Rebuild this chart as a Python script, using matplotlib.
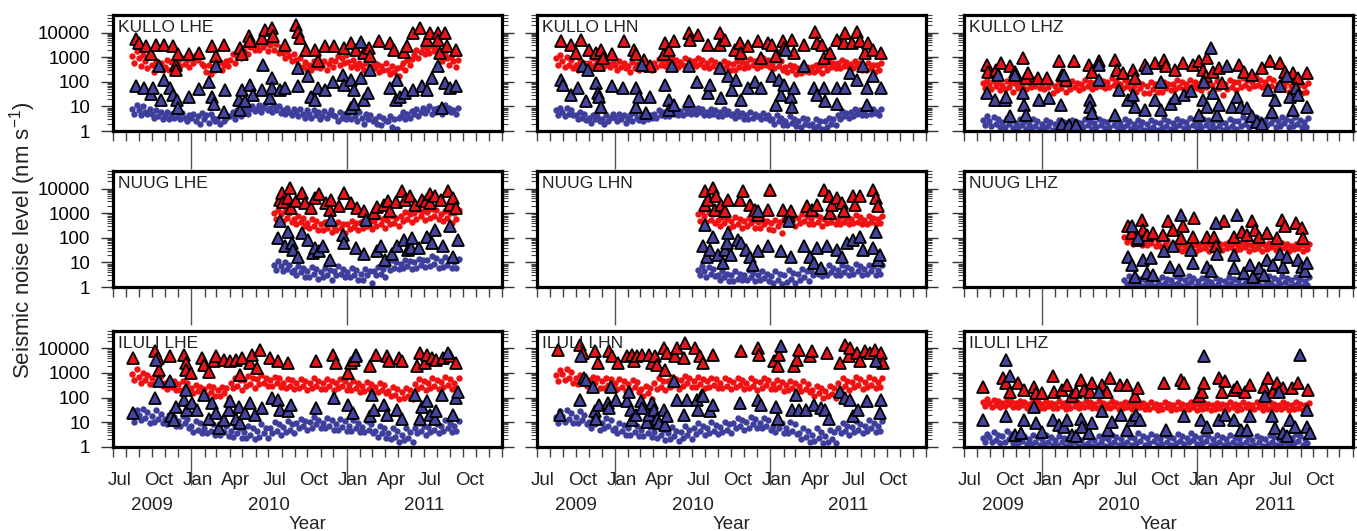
import datetime as dt
import numpy as np
import matplotlib
matplotlib.use("Agg")
import matplotlib.pyplot as plt
import matplotlib.dates as mdates
import matplotlib.transforms as mtrans
from matplotlib.ticker import FixedLocator, LogLocator, NullFormatter, FixedFormatter

plt.rcParams['font.family'] = ['Liberation Sans', 'DejaVu Sans']
plt.rcParams['mathtext.fontset'] = 'custom'
plt.rcParams['mathtext.rm'] = 'Liberation Sans'
plt.rcParams['mathtext.it'] = 'Liberation Sans:italic'

# ---------------- data (days since 2009-07-01, noise level nm/s) ----------------
panel_names = ['KULLO LHE', 'KULLO LHN', 'KULLO LHZ',
               'NUUG LHE', 'NUUG LHN', 'NUUG LHZ',
               'ILULI LHE', 'ILULI LHN', 'ILULI LHZ']

kullo_dot_span = (45, 810)
nuug_dot_span = (378, 812)
iluli_dot_span = (45, 812)

# daily-level dots (about every 5 days), month by month
kullo_lhe_red_dots = [1100, 600, 1800,
    900, 450, 1200, 700, 350, 1000,  500, 250, 700, 350, 600, 300,
    400, 800, 300, 650, 500, 900,  700, 450, 950, 550, 800, 400,
    900, 600, 1200, 750, 1000, 550,  450, 250, 500, 200, 350, 300,
    400, 650, 300, 500, 700, 450,  800, 1300, 600, 1000, 1500, 900,
    1800, 3000, 1400, 2500, 3500, 2000,  3000, 2000, 4000, 2500, 3500, 1800,
    3000, 4500, 2000, 3500, 1500, 2500,  1500, 900, 1800, 1100, 700, 1300,
    800, 500, 900, 400, 650, 300,  500, 300, 700, 400, 850, 350,
    450, 700, 300, 550, 800, 400,  700, 1100, 500, 900, 600, 1200,
    650, 400, 800, 500, 350, 600,  450, 300, 600, 250, 400, 500,
    350, 550, 250, 450, 300, 600,  300, 200, 450, 250, 350, 180,
    400, 600, 300, 750, 500, 850,  1200, 2000, 900, 1600, 2500, 1400,
    2200, 1500, 2800, 1800, 2500, 1300,  1200, 700, 1400, 900, 500, 1000,
    700, 400, 800]
kullo_lhe_blue_dots = [8, 5, 11,
    7, 4.5, 10, 6, 5, 8,  5, 3.5, 7, 4, 6, 3,  4, 6, 3, 5, 3.5, 6.5,
    4, 3, 5.5, 3.5, 2.5, 4.5,  3.5, 5, 2.5, 4, 2, 5.5,  3, 4.5, 2.2, 5, 3.5, 2.5,
    3, 2, 4.5, 2.5, 3.5, 4,  4, 6, 3, 7, 5, 4,  6, 9, 5, 8, 10, 6.5,
    8, 11, 6, 9, 12, 7,  9, 6, 11, 7, 10, 5.5,  7, 5, 9, 6, 4.5, 8,
    6, 4, 8, 5, 3.5, 7,  5, 3.5, 7, 4.5, 6, 3,  4, 6.5, 3.5, 5, 7, 4.5,
    4, 2.5, 6, 3.5, 5, 3,  5, 3, 7, 4, 2.5, 6,  3.5, 2, 5, 3, 4.5, 2.5,
    3, 2, 4, 1.8, 3.5, 2.5,  2.5, 4, 1.5, 3, 1.2, 3.5,  4, 6, 3, 5, 3.5, 6.5,
    5, 7.5, 4, 6, 8.5, 5.5,  7, 10, 5, 8, 6, 9,  8, 5, 11, 7, 9, 6,
    7, 5, 9]
kullo_lhn_red_dots = [900, 500, 1200,
    700, 400, 1000, 500, 800, 350,  500, 300, 700, 400, 600, 250,
    600, 400, 900, 500, 750, 350,  700, 450, 850, 550, 400, 650,
    500, 300, 700, 400, 600, 350,  450, 250, 650, 350, 550, 300,
    500, 350, 700, 400, 600, 300,  600, 400, 850, 500, 750, 450,
    700, 450, 900, 550, 800, 400,  650, 500, 900, 400, 750, 550,
    700, 450, 950, 550, 800, 400,  600, 350, 750, 450, 650, 300,
    500, 350, 700, 400, 600, 300,  550, 300, 700, 400, 650, 350,
    600, 400, 850, 500, 700, 350,  650, 450, 900, 500, 750, 400,
    600, 350, 800, 450, 700, 300,  400, 250, 500, 300, 450, 200,
    350, 220, 480, 280, 400, 250,  400, 250, 500, 300, 450, 220,
    500, 300, 700, 400, 600, 350,  600, 350, 750, 450, 650, 400,
    550, 350, 700, 450, 600, 300,  450, 300, 600, 350, 500, 250,
    500, 300, 600]
kullo_lhn_blue_dots = [7, 4.5, 9,
    6, 4, 9, 5, 7, 4.5,  4.5, 3, 6, 3.5, 5, 2.8,  3.5, 2.2, 4.5, 3, 4, 2.5,
    3, 2, 4.5, 2.5, 3.5, 5,  3.5, 2.5, 5, 3, 4.5, 2.2,  3, 4.5, 2.5, 5.5, 3.5, 2.8,
    4, 2.5, 5, 3, 4.5, 3.5,  5, 3.5, 7, 4.5, 6, 4,  6, 4, 8, 5, 7, 4.5,
    6.5, 4.5, 9, 5.5, 7, 5,  7, 5, 9, 6, 8, 4.5,  6, 4.5, 8, 5, 7, 4,
    6, 4, 7.5, 5, 6.5, 4.5,  5, 3.5, 6.5, 4, 5.5, 3,  4.5, 3, 6, 3.5, 5, 4,
    4, 3, 5.5, 3.5, 4.5, 2.8,  3, 2, 4.5, 2.5, 3.5, 1.8,  2.5, 1.8, 4, 2.2, 3, 1.6,
    2.5, 1.5, 3.5, 2, 3, 1.8,  2, 1.3, 3, 1.6, 2.5, 1.2,  2.5, 1.5, 3.5, 2, 3, 1.8,
    4.5, 3, 6.5, 4, 5.5, 3.5,  6, 4, 8, 5, 7, 4.5,  6.5, 4.5, 9, 5, 7.5, 5.5,
    6, 4.5, 8]
kullo_lhz_red_dots = [90, 55, 120,
    80, 50, 110, 65, 95, 45,  75, 50, 110, 60, 90, 40,  85, 55, 120, 65, 100, 50,
    90, 60, 130, 70, 100, 55,  80, 50, 110, 60, 90, 35,  70, 45, 100, 55, 85, 40,
    75, 50, 105, 60, 90, 45,  85, 55, 120, 65, 100, 50,  90, 60, 130, 70, 110, 55,
    95, 60, 140, 75, 110, 55,  85, 55, 120, 65, 100, 50,  70, 40, 100, 55, 85, 35,
    65, 35, 95, 50, 80, 40,  70, 40, 100, 55, 85, 45,  80, 50, 115, 60, 95, 50,
    85, 55, 120, 65, 100, 55,  80, 45, 110, 60, 95, 35,  75, 45, 105, 55, 90, 30,
    80, 50, 115, 60, 95, 45,  95, 60, 140, 75, 115, 55,  100, 65, 150, 75, 120, 60,
    95, 60, 140, 70, 115, 55,  80, 50, 110, 60, 95, 40,  70, 40, 100, 55, 85, 35,
    65, 40, 90]
kullo_lhz_blue_dots = [2.8, 1.8, 4,
    2.5, 1.6, 3.8, 2, 3, 1.4,  2.4, 1.5, 3.5, 2, 2.8, 1.3,  2.2, 1.4, 3.2, 1.8, 2.6, 1.2,
    2, 1.3, 3, 1.6, 2.5, 1.2,  2, 1.3, 2.8, 1.6, 2.4, 1.1,  1.9, 1.2, 2.7, 1.5, 2.3, 1.1,
    2, 1.3, 2.8, 1.6, 2.4, 1.2,  2.1, 1.4, 3, 1.7, 2.5, 1.2,  2.2, 1.4, 3.1, 1.8, 2.6, 1.3,
    2.3, 1.5, 3.2, 1.8, 2.7, 1.3,  2.2, 1.4, 3, 1.7, 2.6, 1.2,  2, 1.3, 2.9, 1.6, 2.4, 1.1,
    2, 1.2, 2.8, 1.5, 2.3, 1.1,  2.1, 1.3, 3, 1.6, 2.5, 1.2,  2.2, 1.4, 3.2, 1.7, 2.6, 1.3,
    2.3, 1.5, 3.5, 1.8, 2.8, 1.3,  2.2, 1.4, 3.2, 1.7, 2.7, 1.2,  2, 1.3, 2.9, 1.6, 2.4, 1.1,
    2.1, 1.3, 3, 1.6, 2.5, 1.2,  2.5, 1.6, 3.6, 2, 3, 1.4,  2.6, 1.7, 3.8, 2.1, 3.1, 1.5,
    2.7, 1.7, 4, 2.2, 3.2, 1.5,  2.6, 1.6, 3.8, 2.1, 3, 1.4,  2.5, 1.6, 3.6, 2, 2.9, 1.4,
    2.4, 1.5, 3.4]

nuug_lhe_red_dots = [1000, 600, 1300,
    900, 500, 1200, 650, 1000, 450,  600, 350, 750, 450, 650, 300,
    400, 250, 600, 300, 500, 200,  350, 200, 450, 250, 400, 180,
    300, 200, 450, 250, 380, 160,  350, 220, 470, 280, 400, 200,
    450, 250, 600, 300, 500, 220,  500, 300, 700, 350, 600, 250,
    550, 350, 750, 400, 650, 300,  800, 500, 1100, 600, 900, 450,
    1000, 600, 1400, 750, 1200, 550,  1100, 650, 1500, 800, 1300, 600,
    900, 500, 1200, 650, 1000, 400,  1000, 600, 1300]
nuug_lhe_blue_dots = [8, 5, 11,
    7, 4.5, 10, 5.5, 8, 4,  5, 3, 7, 4, 6, 2.5,  4.5, 2.5, 6.5, 3.5, 5.5, 2.2,
    4, 2.5, 6, 3, 5, 2,  4.5, 3, 7, 3.5, 5.5, 2.5,  4, 2.5, 6, 3, 5, 2,
    3.5, 2, 5.5, 3, 4.5, 1.5,  4.5, 3, 6.5, 3.5, 5.5, 2.5,  8, 5, 12, 6, 10, 5.5,
    9, 6, 13, 7, 11, 5.5,  10, 6, 14, 8, 12, 6.5,  12, 7, 18, 9, 15, 6,
    11, 6.5, 17, 8, 14, 6,  10, 6, 14]
nuug_lhn_red_dots = [900, 500, 1200,
    800, 450, 1100, 550, 900, 400,  550, 300, 700, 400, 600, 250,
    500, 300, 700, 350, 600, 250,  500, 300, 650, 400, 550, 250,
    450, 250, 600, 350, 500, 220,  400, 200, 550, 300, 450, 150,
    600, 350, 850, 450, 700, 300,  650, 400, 900, 500, 750, 350,
    600, 350, 850, 450, 700, 300,  600, 400, 800, 450, 700, 350,
    550, 350, 800, 450, 650, 380,  600, 400, 850, 450, 700, 350,
    550, 350, 800, 450, 650, 380,  600, 400, 750]
nuug_lhn_blue_dots = [5, 3, 7,
    4.5, 2.5, 6.5, 3.5, 5.5, 2.8,  3, 2, 4.5, 2.5, 3.5, 1.8,  3, 1.8, 4.5, 2.2, 3.5, 2,
    3.2, 2, 4.8, 2.5, 3.8, 1.8,  3, 1.9, 4.5, 2.3, 3.5, 1.7,  2.8, 1.5, 4.5, 2, 3.5, 1.3,
    3, 1.6, 5, 2.2, 3.8, 1.4,  3.5, 2, 5.5, 2.5, 4.5, 1.8,  4.5, 3, 7, 3.5, 6, 2.8,
    5, 3, 7.5, 4, 6, 3,  5, 3.2, 8, 4, 6.5, 3,  5.5, 3.5, 8.5, 4.5, 7, 3.2,
    5.5, 3.5, 8, 4.5, 7, 3,  5, 3.5, 7.5]
nuug_lhz_red_dots = [110, 70, 130,
    90, 55, 120, 65, 100, 50,  80, 50, 110, 60, 95, 45,  75, 45, 100, 55, 85, 40,
    50, 35, 60, 40, 55, 30,  48, 33, 60, 38, 52, 30,  50, 35, 62, 40, 55, 30,
    52, 36, 65, 42, 58, 32,  55, 38, 65, 44, 60, 33,  52, 36, 62, 42, 58, 30,
    50, 34, 60, 40, 55, 30,  52, 36, 62, 42, 58, 32,  50, 35, 60, 40, 55, 30,
    48, 34, 58, 40, 53, 30,  50, 35, 58]
nuug_lhz_blue_dots = [2, 1.3, 2.8,
    1.8, 1.2, 2.6, 1.4, 2.2, 1.1,  1.9, 1.2, 2.7, 1.5, 2.3, 1.1,  1.8, 1.2, 2.5, 1.4, 2.1, 1.05,
    1.9, 1.3, 2.8, 1.5, 2.3, 1.1,  2, 1.3, 2.9, 1.6, 2.4, 1.1,  1.7, 1.1, 2.4, 1.3, 2, 1.02,
    1.6, 1.1, 2.3, 1.3, 1.9, 1.02,  1.8, 1.2, 2.5, 1.4, 2.1, 1.05,  1.9, 1.2, 2.6, 1.5, 2.2, 1.1,
    1.8, 1.2, 2.5, 1.4, 2.1, 1.05,  1.9, 1.3, 2.7, 1.5, 2.3, 1.1,  2, 1.3, 2.8, 1.6, 2.4, 1.1,
    1.9, 1.2, 2.6, 1.5, 2.2, 1.1,  1.8, 1.2, 2.5]

iluli_lhe_red_dots = [900, 500, 1500,
    700, 400, 1000, 500, 800, 350,  650, 350, 900, 450, 750, 300,
    400, 220, 500, 280, 450, 200,  350, 200, 480, 250, 400, 180,
    250, 150, 320, 180, 280, 120,  220, 130, 300, 160, 260, 110,
    200, 120, 280, 150, 240, 100,  400, 250, 600, 300, 500, 200,
    500, 300, 750, 350, 600, 250,  550, 350, 800, 400, 650, 300,
    500, 300, 700, 380, 600, 280,  400, 250, 580, 300, 500, 220,
    380, 240, 550, 300, 450, 200,  400, 250, 600, 300, 480, 220,
    380, 230, 560, 290, 460, 200,  400, 250, 580, 300, 480, 210,
    320, 200, 450, 250, 380, 160,  300, 180, 420, 230, 350, 150,
    280, 170, 400, 210, 330, 150,  180, 110, 260, 130, 220, 90,
    170, 100, 250, 120, 200, 85,  350, 220, 550, 280, 450, 200,
    400, 250, 650, 300, 500, 220,  420, 260, 700, 320, 550, 230,
    400, 250, 600]
iluli_lhe_blue_dots = [18, 10, 30,
    20, 12, 35, 15, 25, 9,  18, 10, 30, 13, 22, 9,  13, 8, 20, 10, 16, 7,
    11, 7, 18, 9, 14, 6,  7, 4, 11, 5, 9, 3.5,  6, 3.5, 10, 4.5, 8, 3,
    5.5, 3, 9, 4, 7, 2.8,  4.5, 2.5, 7, 3.5, 6, 2.2,  4, 2.2, 7, 3, 5.5, 2,
    4.5, 2.5, 8, 3.5, 6, 2.3,  6, 3.5, 10, 4.5, 8, 3,  6.5, 4, 11, 5, 8.5, 3.5,
    9, 5.5, 14, 7, 11, 5,  10, 6, 16, 8, 12, 5.5,  9, 5.5, 15, 7, 12, 5,
    8, 5, 14, 6.5, 11, 4.5,  7, 4.5, 12, 5.5, 9, 4,  6.5, 4, 11, 5, 8.5, 3.5,
    4.5, 2.5, 7, 3.5, 5.5, 2.2,  3.5, 2, 6, 2.5, 4.5, 1.6,  3, 1.8, 5.5, 2.3, 4, 1.5,
    5.5, 3.5, 9, 4.5, 7, 3,  6.5, 4, 11, 5, 8, 3.5,  7, 4.5, 12, 5.5, 9, 4,
    7, 4.5, 11]
iluli_lhn_red_dots = [800, 450, 1300,
    900, 500, 1400, 650, 1100, 400,  600, 350, 800, 450, 700, 300,
    500, 280, 700, 380, 600, 250,  450, 250, 650, 330, 550, 220,
    400, 220, 550, 280, 480, 180,  350, 200, 500, 260, 420, 160,
    220, 120, 300, 150, 250, 90,  380, 220, 600, 280, 480, 200,
    450, 260, 700, 330, 550, 230,  500, 300, 750, 380, 600, 260,
    480, 280, 700, 350, 580, 250,  450, 270, 650, 330, 550, 240,
    400, 250, 600, 300, 500, 220,  420, 260, 620, 310, 520, 230,
    400, 240, 600, 300, 480, 210,  420, 250, 630, 320, 500, 220,
    350, 220, 500, 270, 420, 190,  330, 200, 480, 250, 400, 170,
    300, 180, 450, 230, 370, 160,  200, 120, 300, 150, 250, 100,
    190, 110, 290, 140, 240, 100,  380, 230, 600, 290, 480, 210,
    420, 260, 680, 320, 540, 230,  430, 270, 700, 330, 550, 240,
    420, 260, 650]
iluli_lhn_blue_dots = [16, 9, 28,
    18, 10, 32, 13, 24, 9,  16, 9, 28, 12, 20, 8,  10, 6, 16, 8, 13, 5,
    9, 5.5, 15, 7, 12, 5,  6, 3.5, 9, 4.5, 7.5, 3,  5.5, 3, 9, 4, 7, 2.8,
    5, 2.8, 8, 3.5, 6.5, 2.5,  4, 2.2, 7, 3, 5, 1.8,  3.5, 2, 6.5, 2.7, 4.5, 1.7,
    4, 2.2, 7, 3, 5, 2,  5.5, 3.2, 9, 4.2, 7, 3,  6, 3.5, 10, 4.5, 7.5, 3.2,
    6.5, 4, 10, 5, 8, 3.5,  9, 5.5, 15, 7, 12, 5,  10, 6, 16, 8, 13, 5.5,
    9, 5.5, 15, 7, 12, 5,  7, 4, 11, 5.5, 9, 3.5,  6, 3.5, 10, 4.5, 8, 3.2,
    3.5, 2, 6, 2.5, 4.5, 1.6,  3, 1.7, 5.5, 2.2, 4, 1.4,  2.8, 1.6, 5, 2, 3.8, 1.4,
    5.5, 3.5, 9, 4.5, 7, 3,  6.5, 4, 11, 5, 8.5, 3.5,  7, 4.5, 12, 5.5, 9, 4,
    7, 4.5, 11]
iluli_lhz_red_dots = [65, 45, 85,
    60, 42, 80, 50, 70, 40,  62, 44, 82, 52, 72, 42,  58, 40, 75, 48, 66, 38,
    56, 40, 72, 46, 64, 38,  55, 38, 70, 45, 62, 36,  54, 38, 70, 44, 62, 35,
    55, 38, 72, 45, 63, 36,  56, 40, 72, 46, 64, 38,  55, 38, 70, 45, 62, 36,
    54, 38, 70, 44, 62, 35,  53, 37, 68, 43, 60, 34,  52, 36, 66, 42, 58, 34,
    50, 35, 64, 40, 56, 32,  50, 34, 64, 40, 56, 32,  49, 34, 63, 39, 55, 31,
    50, 35, 64, 40, 56, 32,  49, 34, 62, 39, 55, 31,  48, 33, 62, 38, 54, 30,
    50, 35, 65, 40, 56, 32,  51, 35, 66, 41, 57, 33,  50, 35, 64, 40, 56, 32,
    51, 35, 66, 41, 57, 33,  50, 34, 65, 40, 56, 32,  49, 34, 63, 39, 55, 31,
    48, 34, 60]
iluli_lhz_blue_dots = [2.2, 1.5, 3.2,
    2.5, 1.6, 4, 1.9, 3, 1.4,  2.6, 1.6, 4.5, 2, 3.2, 1.4,  2.2, 1.4, 3.3, 1.7, 2.7, 1.3,
    2, 1.3, 3, 1.6, 2.5, 1.2,  2, 1.3, 2.9, 1.5, 2.4, 1.2,  1.9, 1.2, 2.8, 1.5, 2.3, 1.1,
    1.9, 1.2, 2.8, 1.5, 2.3, 1.1,  1.8, 1.2, 2.7, 1.4, 2.2, 1.1,  1.9, 1.2, 2.8, 1.5, 2.3, 1.1,
    2, 1.3, 3, 1.6, 2.4, 1.2,  2.1, 1.3, 3.2, 1.6, 2.5, 1.2,  2.2, 1.4, 3.5, 1.7, 2.7, 1.2,
    2.2, 1.4, 3.3, 1.7, 2.6, 1.2,  2.1, 1.3, 3.1, 1.6, 2.5, 1.2,  2.2, 1.4, 3.3, 1.7, 2.7, 1.3,
    2.3, 1.5, 3.5, 1.8, 2.8, 1.3,  2.2, 1.4, 3.3, 1.7, 2.7, 1.2,  2.1, 1.3, 3.1, 1.6, 2.5, 1.2,
    2, 1.3, 3, 1.6, 2.4, 1.2,  2, 1.3, 2.9, 1.5, 2.4, 1.1,  1.9, 1.2, 2.8, 1.5, 2.3, 1.1,
    2, 1.3, 3, 1.6, 2.4, 1.2,  2.1, 1.3, 3.1, 1.6, 2.5, 1.2,  2.2, 1.4, 3.3, 1.7, 2.6, 1.2,
    2.1, 1.4, 3.2]

# event triangles: (day, level)
kullo_lhe_red_tri = [(55, 5500), (61, 3800), (78, 2800), (90, 1300), (102, 3200), (121, 3200), (140, 2800),
    (148, 490), (148, 290), (152, 1300), (179, 1300), (202, 1500), (233, 2800), (241, 1100), (260, 3200),
    (299, 2300), (303, 1300), (319, 7600), (322, 4500), (350, 6000), (357, 13000), (373, 15000), (377, 7100),
    (404, 3200), (431, 21000), (435, 11000), (439, 6000), (454, 2000), (474, 2000), (481, 680), (497, 2800),
    (520, 2800), (543, 2300), (559, 3800), (571, 2000), (590, 1500), (601, 2300), (605, 1100), (625, 4500),
    (652, 3800), (660, 2000), (683, 1700), (691, 2800), (706, 9800), (722, 15000), (737, 5100), (745, 9800),
    (764, 9800), (764, 5100), (768, 1500), (780, 9800), (784, 2800), (807, 2000)]
kullo_lhe_blue_tri = [(55, 65), (74, 55), (90, 32), (94, 55), (109, 430), (113, 19), (121, 120), (133, 55),
    (140, 30), (150, 19), (152, 8.5), (179, 25), (202, 50), (226, 100), (233, 25), (237, 13), (241, 430),
    (260, 6), (264, 47), (295, 19), (299, 7), (303, 47), (311, 16), (322, 75), (330, 30), (350, 47), (353, 500),
    (369, 21), (373, 140), (373, 55), (392, 47), (404, 55), (435, 360), (435, 65), (458, 165), (466, 25),
    (474, 19), (481, 55), (497, 47), (516, 100), (540, 195), (543, 75), (559, 120), (559, 9), (567, 47),
    (567, 13), (582, 4000), (582, 140), (590, 19), (598, 35), (605, 310), (652, 55), (664, 19), (667, 120),
    (675, 25), (687, 35), (706, 47), (726, 65), (737, 47), (749, 140), (764, 420), (772, 8.5), (780, 89),
    (791, 55), (807, 65)]
kullo_lhn_red_tri = [(58, 4500), (81, 3200), (93, 1500), (105, 5100), (124, 2000), (140, 1500), (147, 490),
    (151, 2000), (155, 930), (178, 1300), (205, 4500), (229, 2000), (233, 1300), (252, 790), (267, 430),
    (298, 1300), (302, 3800), (310, 2000), (322, 4500), (357, 9800), (360, 5100), (380, 8300), (403, 3200),
    (430, 9800), (430, 3200), (442, 5100), (465, 2000), (477, 3800), (481, 1500), (496, 2800), (519, 4500),
    (527, 930), (543, 3800), (554, 3200), (562, 1100), (578, 4500), (581, 2300), (601, 5100), (605, 1500),
    (628, 3200), (655, 11000), (659, 3800), (671, 3200), (674, 930), (690, 1500), (705, 5100), (721, 3800),
    (725, 9800), (740, 3800), (752, 11000), (760, 4500), (771, 1500), (779, 3800), (791, 2000), (810, 1500)]
kullo_lhn_blue_tri = [(58, 120), (62, 76), (81, 30), (97, 55), (109, 430), (116, 16), (120, 310), (140, 89),
    (143, 35), (147, 25), (151, 9.8), (178, 65), (202, 55), (233, 55), (233, 9.8), (240, 25), (248, 490),
    (256, 5.2), (267, 25), (302, 76), (310, 19), (310, 7.2), (318, 430), (322, 11), (357, 430), (357, 16),
    (376, 100), (403, 35), (407, 76), (430, 360), (434, 21), (450, 170), (458, 47), (469, 120), (481, 19),
    (496, 55), (512, 100), (527, 55), (554, 170), (562, 11), (570, 120), (574, 30), (581, 76), (585, 2000),
    (597, 25), (601, 9.8), (605, 55), (628, 430), (651, 55), (659, 30), (674, 55), (678, 16), (705, 13),
    (705, 55), (725, 55), (736, 220), (752, 120), (767, 430), (775, 55), (775, 11), (791, 170), (810, 55)]
kullo_lhz_red_tri = [(54, 490), (57, 260), (77, 310), (89, 580), (108, 430), (120, 260), (139, 930), (147, 140),
    (151, 220), (174, 140), (197, 140), (224, 680), (232, 195), (240, 120), (259, 680), (294, 490), (302, 260),
    (317, 680), (356, 790), (360, 310), (375, 220), (398, 310), (402, 140), (426, 490), (449, 580), (472, 790),
    (476, 430), (496, 310), (515, 580), (538, 490), (553, 680), (562, 310), (569, 170), (573, 930), (585, 260),
    (600, 360), (608, 89), (647, 490), (658, 260), (677, 195), (701, 360), (720, 680), (744, 580), (755, 260),
    (775, 220), (786, 140), (806, 220)]
kullo_lhz_blue_tri = [(54, 35), (73, 19), (81, 195), (97, 19), (100, 25), (108, 3.9), (120, 195), (139, 35),
    (143, 11), (147, 4.5), (178, 19), (201, 21), (228, 11), (232, 2.0), (236, 195), (248, 1.7), (263, 1.7),
    (298, 19), (298, 9.8), (302, 5.2), (317, 490), (317, 120), (356, 4.5), (364, 47), (387, 19), (398, 30),
    (402, 9.8), (426, 7.2), (430, 360), (449, 19), (464, 100), (464, 7.2), (488, 13), (496, 21), (519, 30),
    (534, 41), (553, 4.5), (562, 19), (565, 100), (573, 9.8), (581, 2300), (585, 35), (596, 4.5), (600, 11),
    (619, 430), (631, 9.8), (643, 25), (651, 9.8), (666, 8.5), (677, 3.9), (689, 2.4), (701, 2.0), (716, 47),
    (724, 6.2), (732, 19), (744, 65), (759, 170), (767, 25), (775, 7.2), (782, 55), (786, 30), (806, 9.8)]

nuug_lhe_red_tri = [(392, 3500), (396, 6600), (400, 2800), (412, 4200), (416, 11000), (419, 1600), (430, 3000),
    (443, 6600), (450, 2600), (466, 1600), (475, 4000), (485, 5800), (501, 2600), (509, 1400), (512, 3500),
    (530, 2000), (543, 6600), (560, 2500), (574, 1600), (590, 1200), (613, 1000), (620, 1800), (636, 2200),
    (645, 3000), (652, 1200), (665, 2800), (679, 7800), (687, 3500), (698, 4900), (710, 2200), (725, 3500),
    (735, 3000), (745, 5800), (745, 2600), (757, 4900), (770, 3500), (788, 7800), (791, 2200), (800, 4000),
    (805, 1600)]
nuug_lhe_blue_tri = [(388, 98), (392, 470), (404, 45), (412, 180), (420, 60), (423, 32), (435, 17), (443, 155),
    (458, 83), (470, 25), (474, 38), (485, 28), (493, 45), (509, 13), (512, 540), (540, 130), (543, 60),
    (571, 38), (590, 23), (594, 540), (620, 30), (629, 45), (640, 13), (656, 23), (667, 45), (683, 83),
    (694, 32), (700, 40), (702, 98), (718, 38), (737, 110), (750, 60), (757, 210), (776, 45), (791, 290),
    (799, 17), (810, 80)]
nuug_lhn_red_tri = [(395, 7800), (395, 2200), (403, 3500), (415, 11000), (419, 1400), (422, 4900), (434, 2200),
    (442, 1200), (450, 3500), (477, 3500), (484, 7800), (500, 2200), (512, 1400), (519, 870), (543, 1400),
    (547, 9100), (578, 1400), (593, 740), (597, 1200), (636, 1900), (647, 1400), (659, 2200), (674, 9100),
    (686, 4900), (690, 1000), (694, 2200), (705, 4200), (717, 2600), (721, 1200), (744, 4900), (748, 2200),
    (760, 4900), (791, 9100), (798, 4200), (802, 1900)]
nuug_lhn_blue_tri = [(391, 45), (395, 340), (399, 17), (407, 32), (415, 110), (426, 20), (438, 9.3), (442, 32),
    (446, 60), (450, 155), (457, 20), (473, 83), (481, 60), (492, 32), (500, 17), (508, 7.9), (519, 1200),
    (519, 28), (543, 45), (574, 28), (593, 470), (597, 17), (628, 45), (643, 17), (651, 9.3), (659, 38),
    (667, 5.8), (682, 45), (705, 32), (717, 17), (729, 60), (744, 83), (760, 110), (767, 32), (791, 38),
    (798, 180), (802, 13), (806, 20)]
nuug_lhz_red_tri = [(387, 290), (395, 155), (410, 83), (418, 540), (422, 210), (430, 130), (445, 155), (469, 130),
    (480, 470), (492, 210), (511, 98), (515, 290), (538, 110), (542, 630), (573, 110), (588, 110), (592, 45),
    (612, 470), (635, 110), (654, 180), (666, 130), (677, 470), (685, 210), (693, 110), (712, 155), (736, 98),
    (747, 540), (755, 290), (782, 400), (794, 245), (798, 98)]
nuug_lhz_blue_tri = [(387, 17), (395, 290), (395, 7.9), (402, 2.6), (410, 98), (422, 13), (430, 3.6), (441, 15),
    (445, 3.1), (472, 28), (484, 6.8), (492, 45), (507, 4.9), (511, 870), (534, 32), (538, 9.3), (573, 6.8),
    (581, 4.3), (592, 400), (596, 23), (635, 20), (635, 5.8), (643, 870), (658, 3.6), (674, 7.9), (681, 2.6),
    (693, 5.8), (705, 3.1), (712, 13), (728, 7.9), (744, 23), (751, 6.8), (759, 17), (786, 13), (794, 6.8),
    (802, 4.3), (806, 9.3)]

iluli_lhe_red_tri = [(47, 4100), (98, 7600), (105, 4100), (109, 1300), (133, 4700), (167, 5500), (171, 2500),
    (171, 1300), (183, 980), (210, 4100), (214, 2100), (226, 1100), (237, 3000), (241, 4700), (260, 3500),
    (276, 3000), (288, 3500), (299, 850), (303, 4100), (322, 2500), (326, 5500), (338, 1600), (346, 8900),
    (369, 4100), (388, 3000), (412, 2500), (478, 3000), (516, 5500), (524, 2500), (551, 980), (559, 2500),
    (567, 3500), (571, 5500), (605, 1900), (617, 5500), (644, 4700), (648, 3000), (671, 4100), (679, 3000),
    (714, 1900), (722, 6500), (733, 2500), (737, 5500), (749, 4100), (760, 3500), (776, 4100), (791, 4700),
    (807, 2500)]
iluli_lhe_blue_tri = [(47, 23), (98, 93), (102, 3500), (109, 450), (133, 450), (137, 17), (144, 12), (148, 43),
    (167, 79), (171, 200), (175, 32), (186, 59), (198, 32), (214, 130), (226, 14), (233, 59), (241, 23),
    (249, 5.6), (260, 12), (272, 32), (276, 69), (288, 14), (295, 43), (299, 8.9), (311, 23), (322, 59),
    (334, 19), (350, 36), (373, 93), (388, 79), (392, 32), (412, 27), (419, 50), (478, 36), (520, 93),
    (551, 50), (563, 23), (571, 4700), (605, 17), (609, 130), (613, 32), (636, 50), (644, 19), (667, 32),
    (679, 14), (710, 130), (722, 14), (726, 43), (737, 69), (745, 19), (756, 14), (760, 27), (772, 130),
    (788, 6500), (799, 19), (807, 93), (811, 170)]
iluli_lhn_red_tri = [(50, 8900), (101, 14000), (108, 6500), (136, 7600), (143, 2500), (171, 7600), (178, 4700),
    (190, 2500), (213, 4700), (225, 5500), (229, 3000), (236, 4700), (248, 5500), (264, 5500), (271, 2500),
    (279, 4700), (283, 2100), (298, 10000), (302, 1300), (306, 6500), (326, 4700), (329, 10000), (345, 4100),
    (349, 17000), (372, 10000), (384, 4700), (391, 2500), (415, 5500), (481, 7600), (519, 10000), (523, 5500),
    (558, 3000), (566, 1900), (570, 5500), (605, 1900), (612, 3500), (616, 8900), (643, 4700), (647, 7600),
    (682, 6500), (713, 2500), (725, 14000), (733, 4700), (736, 10000), (752, 6500), (760, 3000), (771, 7600),
    (783, 6500), (795, 8900), (810, 6500), (814, 2500)]
iluli_lhn_blue_tri = [(54, 19), (101, 79), (105, 4700), (112, 620), (116, 520), (132, 280), (136, 27), (140, 14),
    (147, 50), (167, 59), (171, 36), (174, 280), (186, 79), (213, 69), (217, 170), (221, 32), (225, 12),
    (233, 19), (244, 69), (248, 36), (260, 10), (264, 19), (271, 59), (275, 32), (283, 14), (287, 8.9),
    (298, 32), (302, 7.6), (306, 17), (322, 450), (329, 79), (345, 19), (353, 79), (376, 79), (380, 32),
    (388, 130), (391, 110), (407, 27), (415, 50), (477, 59), (519, 79), (527, 50), (562, 43), (566, 14),
    (574, 12000), (601, 32), (609, 130), (616, 32), (632, 32), (651, 50), (667, 36), (678, 32), (686, 14),
    (713, 170), (725, 93), (736, 79), (744, 17), (756, 32), (775, 69), (798, 3000), (806, 23), (810, 79)]
iluli_lhz_red_tri = [(46, 280), (92, 620), (100, 380), (108, 170), (127, 380), (143, 200), (166, 280), (170, 150),
    (185, 150), (209, 720), (213, 170), (232, 200), (244, 330), (255, 110), (263, 170), (275, 520), (282, 200),
    (298, 170), (302, 380), (325, 330), (336, 170), (344, 620), (367, 330), (383, 330), (402, 110), (410, 240),
    (472, 380), (511, 520), (519, 380), (553, 110), (561, 170), (565, 380), (600, 620), (608, 170), (615, 450),
    (635, 200), (643, 280), (662, 170), (674, 330), (705, 280), (716, 620), (728, 170), (736, 380), (751, 240),
    (771, 240), (786, 380), (809, 200)]
iluli_lhz_blue_tri = [(46, 12), (100, 3500), (100, 17), (108, 720), (120, 3.0), (135, 3.5), (143, 12), (166, 43),
    (170, 8.9), (185, 4.1), (209, 12), (224, 7.6), (236, 6.6), (244, 12), (255, 3.0), (263, 2.6), (275, 14),
    (279, 6.6), (294, 3.5), (302, 8.9), (317, 170), (325, 27), (340, 4.8), (348, 10), (371, 19), (383, 4.8),
    (395, 12), (406, 19), (414, 12), (476, 4.8), (519, 17), (557, 12), (565, 4700), (573, 6.6), (600, 12),
    (615, 19), (635, 12), (651, 4.8), (666, 4.8), (674, 17), (709, 110), (724, 17), (732, 5.6), (740, 170),
    (751, 3.5), (759, 2.6), (767, 12), (778, 6.6), (790, 5500), (806, 32), (806, 6.6), (813, 3.5)]

# axis labels
y_tick_values = [1, 10, 100, 1000, 10000]
y_tick_labels = ['1', '10', '100', '1000', '10000']
month_label_names = ['Jul', 'Oct', 'Jan', 'Apr', 'Jul', 'Oct', 'Jan', 'Apr', 'Jul', 'Oct']
month_label_dates = ['2009-07-16', '2009-10-16', '2010-01-16', '2010-04-16', '2010-07-16',
                     '2010-10-16', '2011-01-16', '2011-04-16', '2011-07-16', '2011-10-16']
year_label_names = ['2009', '2010', '2011']
year_label_dates = ['2009-10-01', '2010-07-02', '2011-07-02']

# ---------------- drawing ----------------
RED_DOT = '#f01212'
RED_TRI = '#e8141a'
BLUE_DOT = '#3e3e9c'
BLUE_TRI = '#45459f'

t0 = mdates.date2num(dt.date(2009, 7, 1))
t_end = mdates.date2num(dt.date(2012, 1, 1))
month_starts = [mdates.date2num(dt.date(2009 + (6 + k) // 12, (6 + k) % 12 + 1, 1)) for k in range(31)]
year_starts = [mdates.date2num(dt.date(2010, 1, 1)), mdates.date2num(dt.date(2011, 1, 1))]

panels = [
    (kullo_lhe_red_dots, kullo_lhe_blue_dots, kullo_lhe_red_tri, kullo_lhe_blue_tri, kullo_dot_span),
    (kullo_lhn_red_dots, kullo_lhn_blue_dots, kullo_lhn_red_tri, kullo_lhn_blue_tri, kullo_dot_span),
    (kullo_lhz_red_dots, kullo_lhz_blue_dots, kullo_lhz_red_tri, kullo_lhz_blue_tri, kullo_dot_span),
    (nuug_lhe_red_dots, nuug_lhe_blue_dots, nuug_lhe_red_tri, nuug_lhe_blue_tri, nuug_dot_span),
    (nuug_lhn_red_dots, nuug_lhn_blue_dots, nuug_lhn_red_tri, nuug_lhn_blue_tri, nuug_dot_span),
    (nuug_lhz_red_dots, nuug_lhz_blue_dots, nuug_lhz_red_tri, nuug_lhz_blue_tri, nuug_dot_span),
    (iluli_lhe_red_dots, iluli_lhe_blue_dots, iluli_lhe_red_tri, iluli_lhe_blue_tri, iluli_dot_span),
    (iluli_lhn_red_dots, iluli_lhn_blue_dots, iluli_lhn_red_tri, iluli_lhn_blue_tri, iluli_dot_span),
    (iluli_lhz_red_dots, iluli_lhz_blue_dots, iluli_lhz_red_tri, iluli_lhz_blue_tri, iluli_dot_span),
]

W, H = 1357, 531
fig = plt.figure(figsize=(W / 100, H / 100), dpi=100)
col_left_px = [113, 536.7, 963.6]
row_bottom_px = [131, 287, 446.7]
ax_w_px, ax_h_px = 389, 116

for i, (rd, bd, rt, bt, span) in enumerate(panels):
    r, c = divmod(i, 3)
    ax = fig.add_axes([col_left_px[c] / W, 1 - row_bottom_px[r] / H, ax_w_px / W, ax_h_px / H])
    ax.set_yscale('log')
    ax.set_ylim(1, 5.2e4)
    ax.set_xlim(t0, t_end)

    xr = t0 + np.linspace(span[0], span[1], len(rd))
    xb = t0 + np.linspace(span[0], span[1], len(bd))
    ax.plot(xr, rd, 'o', ms=4.6, color=RED_DOT, mec='none', zorder=2)
    ax.plot(xb, bd, 'o', ms=4.6, color=BLUE_DOT, mec='none', zorder=2)
    rt_d, rt_v = zip(*rt)
    bt_d, bt_v = zip(*bt)
    ax.plot(t0 + np.array(rt_d), rt_v, '^', ms=9.3, mfc=RED_TRI, mec='black', mew=1.3,
            ls='none', zorder=4)
    ax.plot(t0 + np.array(bt_d), bt_v, '^', ms=9.3, mfc=BLUE_TRI, mec='black', mew=1.3,
            ls='none', zorder=5)

    for s in ax.spines.values():
        s.set_linewidth(2.3)
        s.set_zorder(10)

    # y ticks both sides, outward
    ax.yaxis.set_major_locator(FixedLocator(y_tick_values))
    ax.yaxis.set_minor_locator(LogLocator(base=10, subs=np.arange(2, 10), numticks=20))
    ax.yaxis.set_minor_formatter(NullFormatter())
    if c == 0:
        ax.yaxis.set_major_formatter(FixedFormatter(y_tick_labels))
    else:
        ax.yaxis.set_major_formatter(NullFormatter())
    ax.tick_params(axis='y', which='major', direction='out', left=True, right=True,
                   length=8.5, width=1.0, color='#333333', labelsize=13.5, pad=8,
                   labelleft=(c == 0), labelright=False)
    ax.tick_params(axis='y', which='minor', direction='out', left=True, right=True,
                   length=4.5, width=0.8, color='#444444')

    # x ticks: long at year starts, short monthly
    ax.xaxis.set_major_locator(FixedLocator(year_starts))
    ax.xaxis.set_minor_locator(FixedLocator([m for m in month_starts if m not in year_starts]))
    ax.xaxis.set_major_formatter(NullFormatter())
    ax.xaxis.set_minor_formatter(NullFormatter())
    ax.tick_params(axis='x', which='major', direction='out', bottom=True, top=False,
                   length=27, width=1.0, color='#555555')
    ax.tick_params(axis='x', which='minor', direction='out', bottom=True, top=False,
                   length=7.5, width=1.0, color='#444444')

    ax.text(0.014, 0.955, panel_names[i], transform=ax.transAxes, ha='left', va='top',
            fontsize=12.5, color='#222222', zorder=12)

    if r == 2:
        trans = mtrans.blended_transform_factory(ax.transData, ax.transAxes)
        for name, d in zip(month_label_names, month_label_dates):
            xd = mdates.date2num(np.datetime64(d))
            ax.text(xd, -0.29, name, transform=trans, ha='center', va='center',
                    fontsize=13.5, color='#222222')
        for name, d in zip(year_label_names, year_label_dates):
            xd = mdates.date2num(np.datetime64(d))
            ax.text(xd, -0.51, name, transform=trans, ha='center', va='center',
                    fontsize=13.5, color='#222222')
        ax.text(0.5, -0.6, 'Year', transform=ax.transAxes, ha='center', va='top',
                fontsize=13.5, color='#222222')

fig.text(0.0165, 0.548, r'Seismic noise level (nm s$^{-1}$)', rotation=90,
         ha='center', va='center', fontsize=16, color='#222222')

fig.savefig('out.png', dpi=100)
